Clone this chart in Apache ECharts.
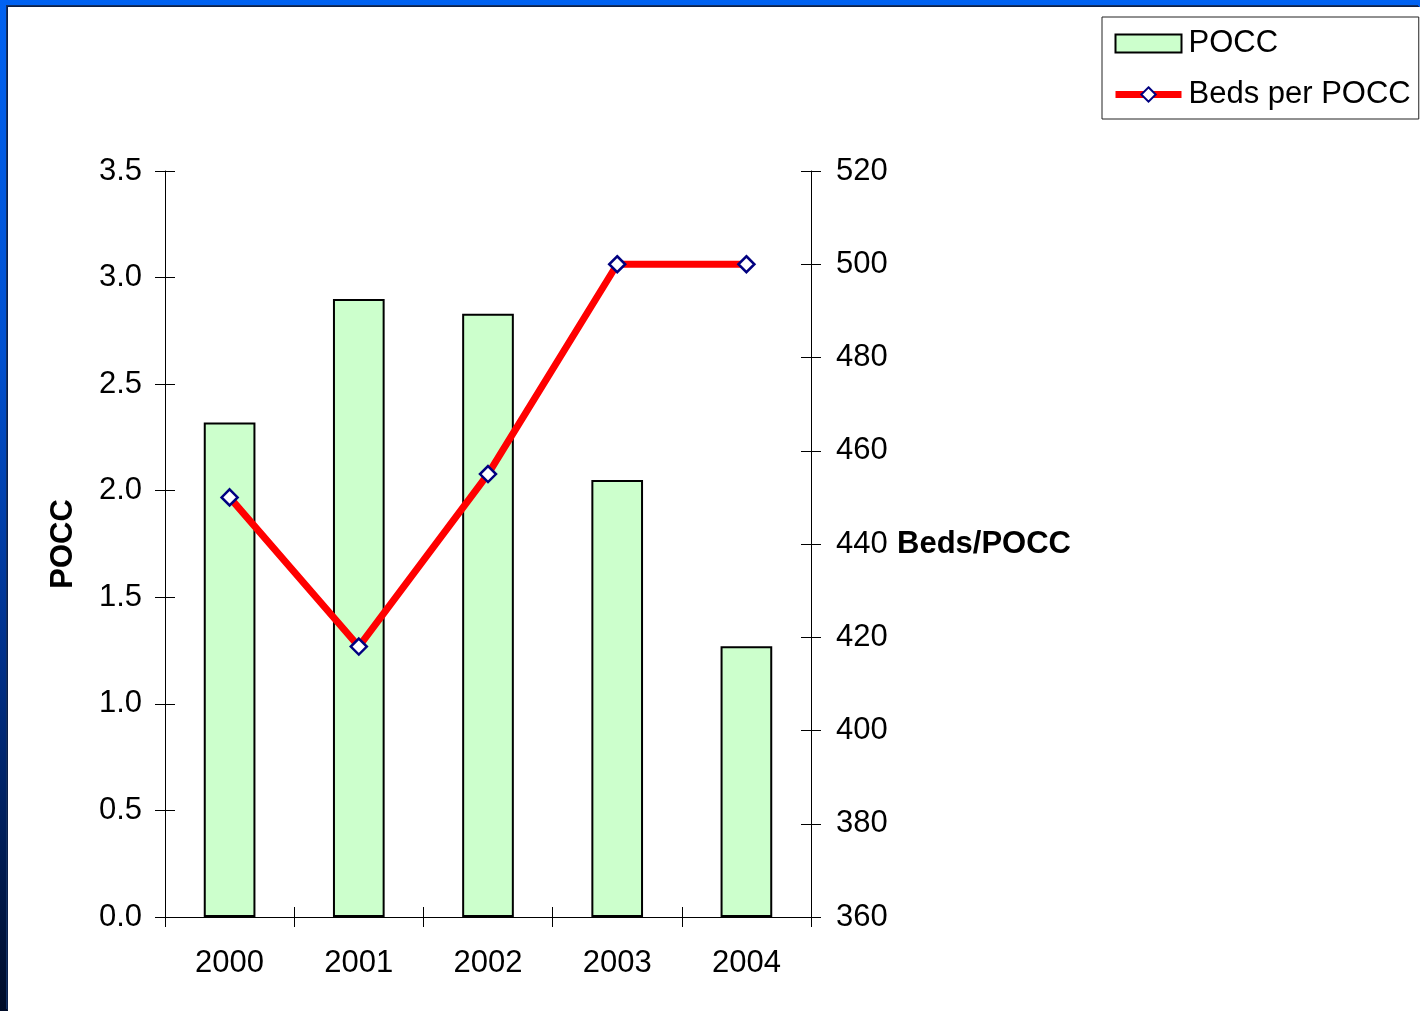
<!DOCTYPE html>
<html>
<head>
<meta charset="utf-8">
<script src="https://cdn.jsdelivr.net/npm/echarts@6/dist/echarts.min.js"></script>
<style>
  html, body {
    margin: 0;
    padding: 0;
    width: 1420px;
    height: 1011px;
    overflow: hidden;
    background: linear-gradient(to bottom, #0062f2 0%, #0050d0 35%, #00308a 65%, #000c28 100%);
  }
  .paper {
    position: absolute;
    left: 8px;
    top: 7px;
    right: 0;
    bottom: 0;
    background: #ffffff;
    box-shadow: -1px -1px 0 #0a1e4a, -2px -2px 0 #123063;
  }
  .box {
    position: absolute;
    left: 0;
    top: 0;
    width: 1420px;
    height: 1011px;
  }
</style>
</head>
<body>
<div class="paper"></div>
<div class="box" id="chartDom"></div>
<script>
// data
const years = ['2000', '2001', '2002', '2003', '2004']
const poccValues = [2.32, 2.9, 2.83, 2.05, 1.27]
const bedsPerPocc = [450, 418, 455, 500, 500]

const FONT = '"Liberation Sans", Arial, sans-serif'

const myChart = echarts.init(document.getElementById('chartDom'), null, {
  devicePixelRatio: window.devicePixelRatio
})

const labelStyle = {
  color: '#000',
  fontSize: 31,
  fontFamily: FONT
}

const option = {
  backgroundColor: 'transparent',
  animation: false,
  textStyle: { fontFamily: FONT },
  legend: {
    left: 1102,
    top: 17,
    orient: 'vertical',
    backgroundColor: '#fff',
    borderColor: '#222',
    borderWidth: 1,
    padding: [11, 8, 9, 10],
    itemGap: 20,
    itemWidth: 66,
    itemHeight: 18,
    textStyle: { color: '#000', fontSize: 31, fontFamily: FONT, padding: [0, 0, 0, 2] },
    data: [
      { name: 'POCC', icon: 'rect' },
      { name: 'Beds per POCC', lineStyle: { width: 7, color: '#ff0000' } }
    ]
  },
  grid: {
    left: 165,
    right: 609,
    top: 171,
    bottom: 94,
    containLabel: false
  },
  xAxis: [
    {
      type: 'category',
      data: years,
      axisLine: { lineStyle: { color: '#000', width: 1 } },
      axisTick: { show: true, length: 10, lineStyle: { color: '#000' } },
      axisLabel: Object.assign({ margin: 31 }, labelStyle)
    },
    {
      // inner half of the cross ticks
      type: 'category',
      data: years,
      position: 'bottom',
      axisLine: { show: false },
      axisTick: { show: true, inside: true, length: 10, lineStyle: { color: '#000' } },
      axisLabel: { show: false }
    }
  ],
  yAxis: [
    {
      type: 'value',
      min: 0,
      max: 3.5,
      interval: 0.5,
      name: 'POCC',
      nameLocation: 'middle',
      nameRotate: 90,
      nameGap: 86,
      nameTextStyle: { color: '#000', fontSize: 31, fontWeight: 'bold', fontFamily: FONT },
      axisLine: { show: true, lineStyle: { color: '#000', width: 1 } },
      axisTick: { show: true, length: 10, lineStyle: { color: '#000' } },
      splitLine: { show: false },
      axisLabel: Object.assign({ margin: 23, formatter: v => v.toFixed(1) }, labelStyle)
    },
    {
      type: 'value',
      position: 'right',
      min: 360,
      max: 520,
      interval: 20,
      name: 'Beds/POCC',
      nameLocation: 'middle',
      nameRotate: 0,
      nameGap: 86,
      nameTextStyle: {
        color: '#000', fontSize: 31, fontWeight: 'bold', fontFamily: FONT,
        align: 'left', verticalAlign: 'middle'
      },
      axisLine: { show: true, lineStyle: { color: '#000', width: 1 } },
      axisTick: { show: true, length: 10, lineStyle: { color: '#000' } },
      splitLine: { show: false },
      axisLabel: Object.assign({ margin: 25 }, labelStyle)
    },
    {
      // inner ticks, left
      type: 'value',
      position: 'left',
      min: 0,
      max: 3.5,
      interval: 0.5,
      axisLine: { show: false },
      axisTick: { show: true, inside: true, length: 10, lineStyle: { color: '#000' } },
      axisLabel: { show: false },
      splitLine: { show: false }
    },
    {
      // inner ticks, right
      type: 'value',
      position: 'right',
      min: 360,
      max: 520,
      interval: 20,
      axisLine: { show: false },
      axisTick: { show: true, inside: true, length: 10, lineStyle: { color: '#000' } },
      axisLabel: { show: false },
      splitLine: { show: false }
    }
  ],
  series: [
    {
      name: 'POCC',
      type: 'bar',
      data: poccValues,
      barWidth: '40%',
      itemStyle: {
        color: '#ccffcc',
        borderColor: '#000',
        borderWidth: 2
      }
    },
    {
      name: 'Beds per POCC',
      type: 'line',
      yAxisIndex: 1,
      data: bedsPerPocc,
      symbol: 'diamond',
      symbolSize: 16,
      z: 5,
      lineStyle: { color: '#ff0000', width: 7 },
      itemStyle: { color: '#fff', borderColor: '#000080', borderWidth: 2.5 }
    }
  ]
}

option && myChart.setOption(option)
</script>
</body>
</html>
